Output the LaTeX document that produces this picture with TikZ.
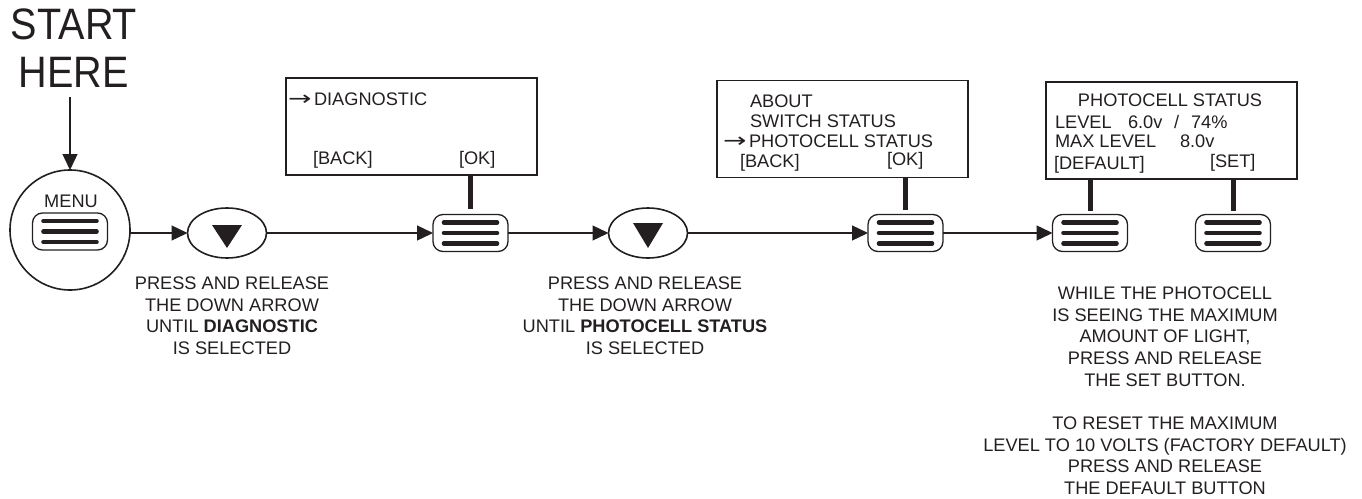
\documentclass[tikz,border=0pt]{standalone}
\usepackage{fontspec}
\setmainfont{Liberation Sans}
\newfontfamily\arrowfont{DejaVu Sans}
\usetikzlibrary{arrows.meta,calc,shapes.geometric}
\definecolor{ink}{HTML}{231F20}
\begin{document}
\begin{tikzpicture}[x=1pt,y=-1pt,
  every node/.style={inner sep=0pt, outer sep=0pt, text=ink},
  body/.style={font=\fontsize{18.2}{21.7}\selectfont},
  arr/.style={font=\arrowfont\fontsize{20}{22}\selectfont},
  big/.style={font=\fontsize{44}{48}\selectfont},
  btn/.style={draw=ink, line width=1.3pt, rounded corners=10pt, minimum width=75pt, minimum height=37pt,
    path picture={
      \foreach \dy in {-10.5,0,10.5}
        \draw[ink, line width=4.6pt, line cap=round, sharp corners]
          ([xshift=11pt,yshift=\dy pt]path picture bounding box.west) --
          ([xshift=-11pt,yshift=\dy pt]path picture bounding box.east);}},
  dn/.style={draw=ink, ellipse, line width=1.6pt, minimum width=79pt, minimum height=50pt},
  screen/.style={draw=ink, line width=1.8pt, minimum width=251pt, minimum height=97pt},
  conn/.style={draw=ink, line width=1.3pt, -{Triangle[length=16pt,width=15pt]}},
  stem/.style={draw=ink, line width=5pt},
  tri/.style={fill=ink}]
\useasboundingbox (0,0) rectangle (1362,498);

% start
\node[big, align=center, anchor=north, xscale=0.9] (start) at (74,8.5) {START\\HERE};
\node[draw=ink, circle, line width=1.6pt, minimum size=120pt] (menu) at (70,230) {};
\node[body] (menulbl) at (71,201.5) {MENU};
\node[btn] (b1) at (70,231.5) {};
\draw[conn] ([yshift=-10pt]start.south -| menu.north) -- (menu.north);

% first down arrow
\node[dn] (e1) at (227,233) {};
\fill[tri] ($(e1)+(-15,-8)$) -- ($(e1)+(15,-8)$) -- ($(e1)+(0,15)$) -- cycle;
\draw[conn] (menu.east |- e1) -- (e1);

% diagnostic screen
\node[screen] (box1) at (411.5,126.5) {};
\node[arr, anchor=base west] (ar1) at (288,105) {\scalebox{1.4}[1]{→}};
\node[body, anchor=base west] (d1) at (314,105) {DIAGNOSTIC};
\node[body, anchor=base west] (bk1) at (313,164) {[BACK]};
\node[body, anchor=base west] (ok1) at (459,164) {[OK]};
\node[btn] (b2) at (470.5,233) {};
\draw[stem] ([yshift=6pt]b2.north) -- (b2.north |- box1.south);
\draw[conn] (e1) -- (b2);

% second down arrow
\node[dn] (e2) at (648,233) {};
\fill[tri] ($(e2)+(-15,-10)$) -- ($(e2)+(15,-10)$) -- ($(e2)+(0,15)$) -- cycle;
\draw[conn] (b2) -- (e2);

% menu screen
\node[screen] (box2) at (842.5,129) {};
\node[body, anchor=base west] (ab) at (750,107) {ABOUT};
\node[body, anchor=base west] (sw) at (750,127) {SWITCH STATUS};
\node[arr, anchor=base west] (ar2) at (723,147) {\scalebox{1.4}[1]{→}};
\node[body, anchor=base west] (ph) at (749,147) {PHOTOCELL STATUS};
\node[body, anchor=base west] (bk2) at (740,167) {[BACK]};
\node[body, anchor=base west] (ok2) at (887,165) {[OK]};
\node[btn] (b3) at (905.5,233) {};
\draw[stem] ([yshift=5pt]b3.north) -- (b3.north |- box2.south);
\draw[conn] (e2) -- (b3);

% photocell screen
\node[screen] (box3) at (1171.5,130.5) {};
\node[body, anchor=base] (pst) at (1170,106) {PHOTOCELL STATUS};
\node[body, anchor=base west] (lv) at (1055,128) {LEVEL};
\node[body, anchor=base west] (lvv) at (1128,128) {6.0v};
\node[body, anchor=base west] (sl) at (1174,128) {/};
\node[body, anchor=base west] (pc) at (1191,128) {74\%};
\node[body, anchor=base west] (mx) at (1055,147) {MAX LEVEL};
\node[body, anchor=base west] (mxv) at (1180,147) {8.0v};
\node[body, anchor=base west] (df) at (1054,169) {[DEFAULT]};
\node[body, anchor=base west] (st) at (1210,167) {[SET]};
\node[btn] (b4) at (1090,233) {};
\node[btn] (b5) at (1233,233) {};
\draw[stem] ([yshift=4pt]b4.north) -- (b4.north |- box3.south);
\draw[stem] ([yshift=4pt]b5.north) -- (b5.north |- box3.south);
\draw[conn] (b3) -- (b4);

% instructions
\node[body, align=center, anchor=north] (t1) at (232,276.7)
  {PRESS AND RELEASE\\THE DOWN ARROW\\UNTIL \textbf{DIAGNOSTIC}\\IS SELECTED};
\node[body, align=center, anchor=north] (t2) at (645,276.7)
  {PRESS AND RELEASE\\THE DOWN ARROW\\UNTIL \textbf{PHOTOCELL STATUS}\\IS SELECTED};
\node[body, align=center, anchor=north] (t3) at (1165,286.7)
  {WHILE THE PHOTOCELL\\IS SEEING THE MAXIMUM\\AMOUNT OF LIGHT,\\PRESS AND RELEASE\\THE SET BUTTON.};
\node[body, align=center, anchor=north] (t4) at (1165,416.7)
  {TO RESET THE MAXIMUM\\LEVEL TO 10 VOLTS (FACTORY DEFAULT)\\PRESS AND RELEASE\\THE DEFAULT BUTTON};
\end{tikzpicture}
\end{document}
